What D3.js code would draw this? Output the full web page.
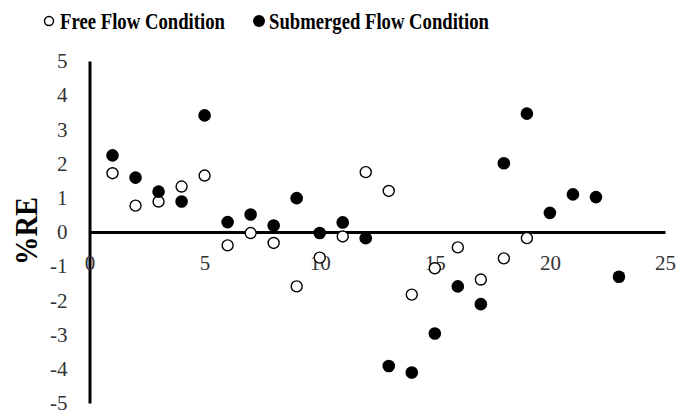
<!DOCTYPE html>
<html lang="en">
  <head>
    <meta charset="UTF-8" />
    <title>%RE</title>
    <script src="https://cdn.jsdelivr.net/npm/d3@7"></script>
    <style>
      body { margin: 0; background: #fff; }
      text { font-family: "Liberation Serif", "Times New Roman", serif; }
    </style>
  </head>
  <body>
    <svg width="676" height="411"></svg>

    <script>
      // run number (x) for each point
      var free_x = [1, 2, 3, 4, 5, 6, 7, 8, 9, 10, 11, 12, 13, 14, 15, 16, 17, 18, 19];
      var free_re = [1.72, 0.77, 0.89, 1.33, 1.65, -0.39, -0.03, -0.32, -1.59, -0.75, -0.13,
        1.75, 1.2, -1.83, -1.06, -0.45, -1.39, -0.77, -0.18];

      var sub_x = [1, 2, 3, 4, 5, 6, 7, 8, 9, 10, 11, 12, 13, 14, 15, 16, 17, 18, 19, 20, 21, 22, 23];
      var sub_re = [2.24, 1.59, 1.18, 0.89, 3.41, 0.29, 0.51, 0.19, 0.99, -0.03, 0.28,
        -0.18, -3.92, -4.11, -2.97, -1.59, -2.11, 2.01, 3.46, 0.56, 1.1, 1.02, -1.31];

      var x_ticks = [0, 5, 10, 15, 20, 25];
      var y_ticks = [-5, -4, -3, -2, -1, 0, 1, 2, 3, 4, 5];

      var svg = d3.select("svg");

      var x = d3.scaleLinear().domain([0, 25]).range([89.5, 665]);
      var y = d3.scaleLinear().domain([-5, 5]).range([403, 61]);

      // plain hyphen for negatives, like the original
      var fmt = function (d) { return String(d); };

      // y axis
      var yAxis = svg.append("g")
        .attr("transform", "translate(" + x(0) + ",0)")
        .call(d3.axisLeft(y).tickValues(y_ticks).tickFormat(fmt).tickSize(0).tickPadding(22));
      yAxis.select(".domain").attr("stroke", "#000").attr("stroke-width", 3);
      yAxis.selectAll("text")
        .attr("font-family", "Liberation Serif")
        .attr("font-size", 21)
        .attr("fill", "#333");

      // x axis through zero
      var xAxis = svg.append("g")
        .attr("transform", "translate(0," + y(0) + ")")
        .call(d3.axisBottom(x).tickValues(x_ticks).tickFormat(fmt).tickSize(0).tickPadding(23));
      xAxis.select(".domain").attr("stroke", "#000").attr("stroke-width", 3);
      xAxis.selectAll("text")
        .attr("font-family", "Liberation Serif")
        .attr("font-size", 21)
        .attr("fill", "#333");

      // y title
      svg.append("text")
        .attr("transform", "translate(37,231) rotate(-90)")
        .attr("text-anchor", "middle")
        .attr("font-size", 32)
        .attr("font-weight", "bold")
        .attr("textLength", 68)
        .attr("lengthAdjust", "spacingAndGlyphs")
        .text("%RE");

      var free = free_x.map(function (d, i) { return { x: d, y: free_re[i] }; });
      var sub = sub_x.map(function (d, i) { return { x: d, y: sub_re[i] }; });

      svg.append("g").selectAll("circle")
        .data(free)
        .enter()
        .append("circle")
        .attr("cx", function (d) { return x(d.x); })
        .attr("cy", function (d) { return y(d.y); })
        .attr("r", 5.5)
        .attr("fill", "#fff")
        .attr("stroke", "#000")
        .attr("stroke-width", 1.4);

      svg.append("g").selectAll("circle")
        .data(sub)
        .enter()
        .append("circle")
        .attr("cx", function (d) { return x(d.x); })
        .attr("cy", function (d) { return y(d.y); })
        .attr("r", 6.3)
        .attr("fill", "#000");

      // legend
      var legend = svg.append("g");
      legend.append("circle")
        .attr("cx", 49).attr("cy", 21).attr("r", 4.5)
        .attr("fill", "#fff").attr("stroke", "#000").attr("stroke-width", 1.4);
      legend.append("text")
        .attr("x", 60).attr("y", 29)
        .attr("font-size", 23).attr("font-weight", "bold")
        .attr("textLength", 165).attr("lengthAdjust", "spacingAndGlyphs")
        .text("Free Flow Condition");
      legend.append("circle")
        .attr("cx", 259).attr("cy", 21).attr("r", 6)
        .attr("fill", "#000");
      legend.append("text")
        .attr("x", 269).attr("y", 29)
        .attr("font-size", 23).attr("font-weight", "bold")
        .attr("textLength", 220).attr("lengthAdjust", "spacingAndGlyphs")
        .text("Submerged Flow Condition");
    </script>
  </body>
</html>
